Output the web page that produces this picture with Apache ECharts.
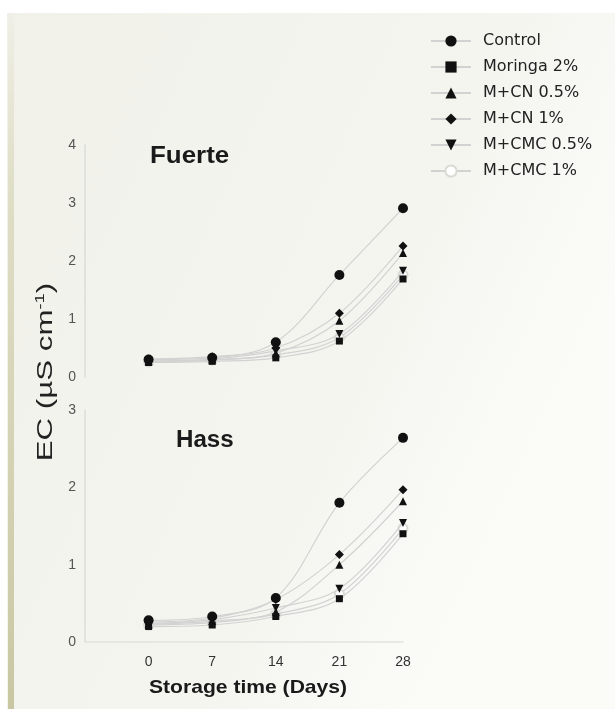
<!DOCTYPE html>
<html>
<head>
<meta charset="utf-8">
<script src="https://cdn.jsdelivr.net/npm/echarts@6/dist/echarts.min.js"></script>
<style>html,body{margin:0;padding:0;background:#fff;}#c{width:615px;height:709px;}</style>
</head>
<body>
<div id="c"></div>
<script>
// Storage days
const days = [0, 7, 14, 21, 28];
const seriesNames = ["Control", "Moringa 2%", "M+CN 0.5%", "M+CN 1%", "M+CMC 0.5%", "M+CMC 1%"];
// Fuerte EC values
const fuerteControl = [0.30, 0.33, 0.60, 1.76, 2.91];
const fuerteMoringa = [0.25, 0.27, 0.33, 0.62, 1.69];
const fuerteCN05 = [0.27, 0.30, 0.41, 0.97, 2.14];
const fuerteCN1 = [0.31, 0.35, 0.50, 1.10, 2.26];
const fuerteCMC05 = [0.28, 0.31, 0.45, 0.74, 1.83];
const fuerteCMC1 = [0.26, 0.29, 0.38, 0.68, 1.76];
// Hass EC values
const hassControl = [0.28, 0.33, 0.57, 1.80, 2.64];
const hassMoringa = [0.20, 0.22, 0.33, 0.56, 1.40];
const hassCN05 = [0.23, 0.27, 0.39, 1.00, 1.82];
const hassCN1 = [0.26, 0.31, 0.55, 1.13, 1.97];
const hassCMC05 = [0.24, 0.29, 0.44, 0.69, 1.54];
const hassCMC1 = [0.22, 0.25, 0.36, 0.62, 1.47];
const yTicksTop = [0, 1, 2, 3, 4];
const yTicksBottom = [0, 1, 2, 3];

const fuerte = [fuerteControl, fuerteMoringa, fuerteCN05, fuerteCN1, fuerteCMC05, fuerteCMC1];
const hass = [hassControl, hassMoringa, hassCN05, hassCN1, hassCMC05, hassCMC1];
const invTri = 'path://M0,0 L10,0 L5,9 Z';
const symbols = ['circle', 'rect', 'triangle', 'diamond', invTri, 'emptyCircle'];
const sizes = [10, 7, 8, 9, 8, 9];
const colors = ['#111', '#111', '#111', '#111', '#111', '#dadad4'];
const FONT = 'Liberation Sans, Arial, sans-serif';

const chart = echarts.init(document.getElementById('c'));
const series = [];
[fuerte, hass].forEach((panel, gi) => {
  panel.forEach((vals, i) => {
    series.push({
      name: seriesNames[i], type: 'line', xAxisIndex: gi, yAxisIndex: gi,
      smooth: 0.35, symbol: symbols[i], symbolSize: sizes[i],
      itemStyle: { color: colors[i], borderColor: i === 5 ? '#d2d2cc' : colors[i], borderWidth: i === 5 ? 1 : 0 },
      lineStyle: { color: '#d2d2d2', width: 1.2 },
      z: i === 5 ? 1 : 3,
      data: vals.map((v, k) => [days[k], v])
    });
  });
});

const xCommon = {
  type: 'value', min: -7, max: 28, interval: 7,
  splitLine: { show: false }, axisTick: { show: false }
};
const yCommon = {
  type: 'value', min: 0, interval: 1,
  splitLine: { show: false }, axisTick: { show: false },
  axisLine: { show: true, onZero: false, lineStyle: { color: '#dcdcd8', width: 1.5 } },
  axisLabel: { color: '#555', fontSize: 14, fontFamily: FONT, margin: 9 }
};

chart.setOption({
  backgroundColor: 'transparent',
  animation: false,
  graphic: [
    { type: 'rect', shape: { x: 0, y: 0, width: 615, height: 709 }, style: { fill: '#ffffff' }, z: -10, silent: true },
    { type: 'rect', shape: { x: 7, y: 13, width: 608, height: 696 }, z: -9, silent: true,
      style: { fill: new echarts.graphic.LinearGradient(0, 0, 1, 0.4, [
        { offset: 0, color: '#f1f1ea' }, { offset: 0.7, color: '#f5f5f0' }, { offset: 1, color: '#fbfbf8' }]) } },
    { type: 'rect', shape: { x: 8, y: 13, width: 6, height: 696 }, z: -8, silent: true,
      style: { fill: new echarts.graphic.LinearGradient(0, 0, 0, 1, [
        { offset: 0, color: '#efefe6' }, { offset: 0.25, color: '#dfdec6' }, { offset: 1, color: '#c9c7a2' }]) } },
    { type: 'text', x: 150, y: 156, scaleX: 1.08, silent: true,
      style: { text: 'Fuerte', x: 0, y: 0, textAlign: 'left', textVerticalAlign: 'middle', fontSize: 24, fontWeight: 'bold', fill: '#1a1a1a', fontFamily: FONT } },
    { type: 'text', x: 176, y: 441, scaleX: 1.05, silent: true,
      style: { text: 'Hass', x: 0, y: 0, textAlign: 'left', textVerticalAlign: 'middle', fontSize: 23, fontWeight: 'bold', fill: '#1a1a1a', fontFamily: FONT } },
    { type: 'text', x: 149, y: 688, scaleX: 1.11, silent: true,
      style: { text: 'Storage time (Days)', x: 0, y: 0, textAlign: 'left', textVerticalAlign: 'middle', fontSize: 19, fontWeight: 'bold', fill: '#1a1a1a', fontFamily: FONT } },
    { type: 'text', x: 46, y: 372, rotation: Math.PI / 2, scaleX: 1.42, silent: true,
      style: { text: '{a|EC (µS cm}{s|-1}{a|)}', x: 0, y: 0, textAlign: 'center', textVerticalAlign: 'middle', fill: '#222', fontFamily: FONT,
        rich: { a: { fontSize: 22, fill: '#222', fontFamily: FONT },
                s: { fontSize: 13, fill: '#222', verticalAlign: 'top', padding: [0, 0, 12, 0], fontFamily: FONT } } } }
  ],
  legend: {
    orient: 'vertical', left: 425, top: 28, itemGap: 10,
    itemWidth: 40, itemHeight: 14,
    data: seriesNames,
    textStyle: { fontSize: 16, color: '#222', fontFamily: 'DejaVu Sans, sans-serif', padding: [0, 0, 0, 7] }
  },
  grid: [
    { left: 85, width: 318, top: 145, height: 232 },
    { left: 85, width: 318, top: 410, height: 232 }
  ],
  xAxis: [
    Object.assign({}, xCommon, { gridIndex: 0, axisLine: { show: false }, axisLabel: { show: false } }),
    Object.assign({}, xCommon, { gridIndex: 1,
      axisLine: { show: true, onZero: false, lineStyle: { color: '#e2e2de', width: 1.5 } },
      axisLabel: { color: '#333', fontSize: 14, fontFamily: FONT, margin: 13,
        formatter: v => (v < 0 ? '' : String(v)) } })
  ],
  yAxis: [
    Object.assign({}, yCommon, { gridIndex: 0, max: yTicksTop[yTicksTop.length - 1] }),
    Object.assign({}, yCommon, { gridIndex: 1, max: yTicksBottom[yTicksBottom.length - 1] })
  ],
  series: series
});
</script>
</body>
</html>
